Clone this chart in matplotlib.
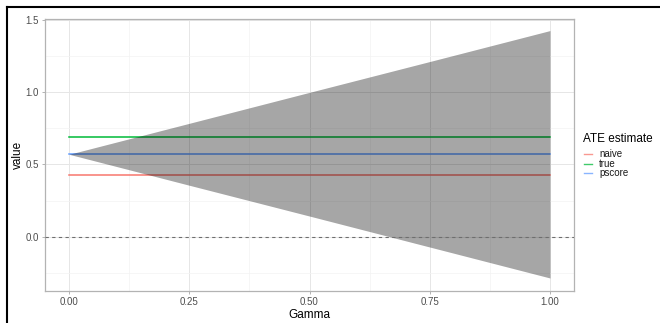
import numpy as np
import matplotlib
matplotlib.use("Agg")
import matplotlib.pyplot as plt
from matplotlib.lines import Line2D

plt.rcParams['font.family'] = ['Liberation Sans', 'DejaVu Sans']

# sensitivity band (straight edges)
gamma = [0.0, 0.25, 0.5, 0.75, 1.0]
lower = [0.57, 0.356, 0.143, -0.071, -0.285]
upper = [0.57, 0.784, 0.998, 1.211, 1.425]

# ATE estimates (flat over gamma)
est_names = ['naive', 'true', 'pscore']
est_values = [0.43, 0.69, 0.57]
est_colors = ['#F8766D', '#00BA38', '#619CFF']

W, H = 660, 323
fig = plt.figure(figsize=(W / 100, H / 100), dpi=100)
ax = fig.add_axes([45 / W, (H - 291) / H, (574 - 45) / W, (291 - 19) / H])

for name, val, col in zip(est_names, est_values, est_colors):
    ax.plot([gamma[0], gamma[-1]], [val, val], color=col, lw=1.1, zorder=2)

# ribbon sits over the lines (lines show darker through it)
ax.fill_between(gamma, lower, upper, color='black', alpha=0.35, lw=0, zorder=3)
ax.axhline(0, color='#6E6E6E', lw=0.8, ls=(0, (3, 3)), zorder=4)

ax.set_xlim(-0.05, 1.05)
ax.set_ylim(-0.375, 1.505)
ax.set_xticks([0, 0.25, 0.5, 0.75, 1.0])
ax.set_xticklabels(['0.00', '0.25', '0.50', '0.75', '1.00'])
ax.set_xticks([0.125, 0.375, 0.625, 0.875], minor=True)
ax.set_yticks([0.0, 0.5, 1.0, 1.5])
ax.set_yticklabels(['0.0', '0.5', '1.0', '1.5'])
ax.set_yticks([-0.25, 0.25, 0.75, 1.25], minor=True)

ax.grid(which='major', color='#E6E6E6', lw=0.7, zorder=0)
ax.grid(which='minor', color='#F3F3F3', lw=0.5, zorder=0)
ax.set_axisbelow(True)
for sp in ax.spines.values():
    sp.set_color('#B3B3B3')
    sp.set_linewidth(0.9)
ax.tick_params(which='major', length=2.5, width=0.7, color='#B3B3B3',
               labelsize=7, labelcolor='#4D4D4D', pad=2)
ax.tick_params(which='minor', length=0)

ax.set_xlabel('Gamma', fontsize=8.5, labelpad=1)
ax.set_ylabel('value', fontsize=8.5)
ax.yaxis.set_label_coords((24 - 45) / (574 - 45), 0.5)

# legend, drawn by hand
fig.text(583 / W, 1 - 139 / H, 'ATE estimate', fontsize=8.5, va='center', ha='left')
rows_y = [154, 164, 173]
for name, col, yy in zip(est_names, est_colors, rows_y):
    fy = 1 - yy / H
    fig.add_artist(Line2D([584 / W, 592 / W], [fy, fy], color=col, lw=1.0, alpha=0.75))
    fig.text(599 / W, fy, name, fontsize=7, va='center', ha='left', color='#1A1A1A')

# black frame on top and left edges of the picture
fig.add_artist(Line2D([7 / W, 1], [1 - 7 / H, 1 - 7 / H], color='black', lw=1.5))
fig.add_artist(Line2D([7 / W, 7 / W], [0, 1 - 7 / H], color='black', lw=1.5))

fig.savefig('out.png', dpi=100)
